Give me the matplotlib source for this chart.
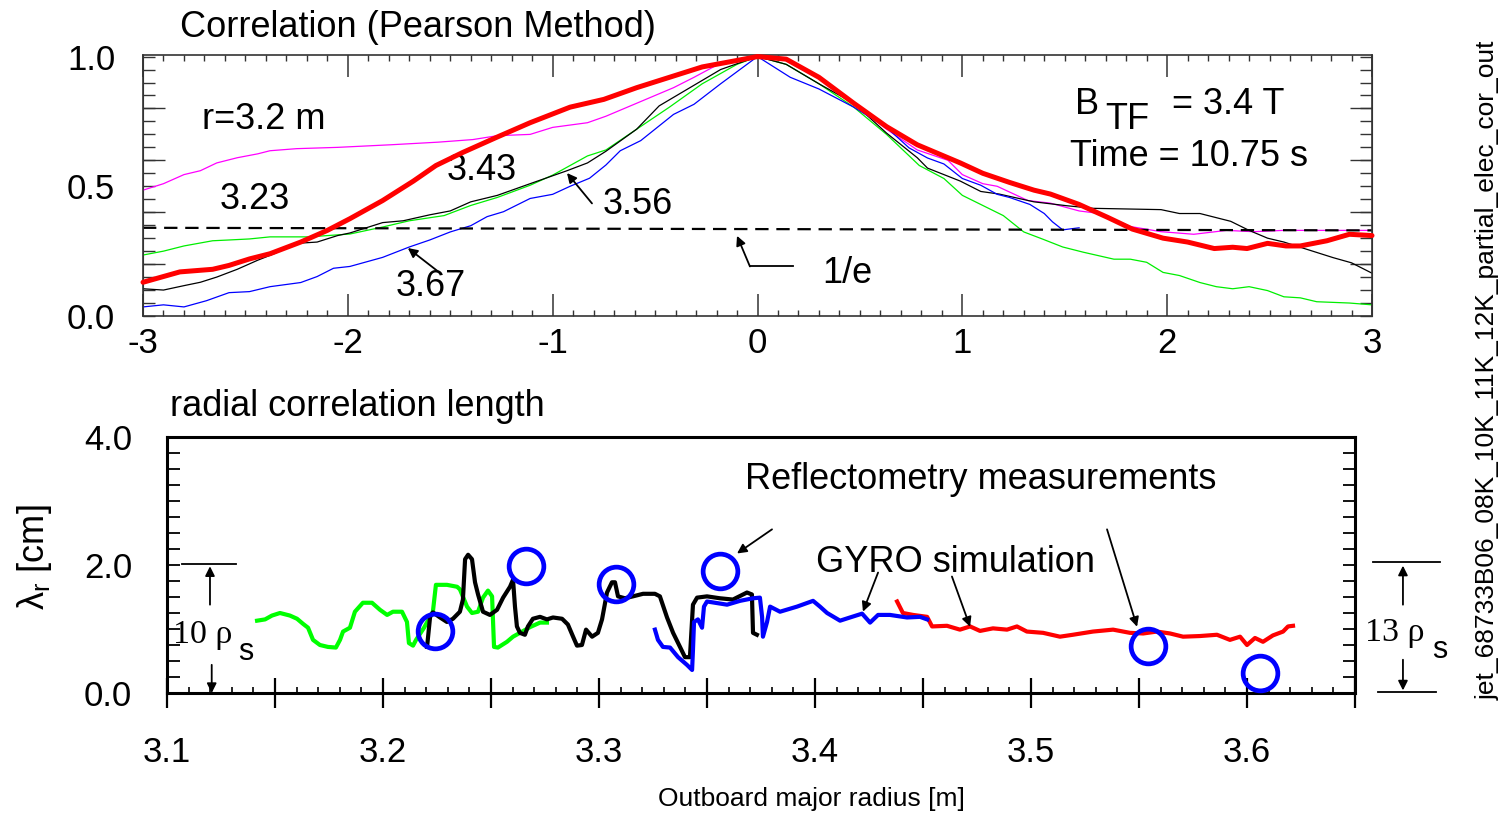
import matplotlib
matplotlib.use("Agg")
import matplotlib.pyplot as plt
from matplotlib.ticker import MultipleLocator, FixedLocator, FuncFormatter

plt.rcParams['font.family'] = ['Liberation Sans', 'DejaVu Sans']
plt.rcParams['mathtext.fontset'] = 'custom'
plt.rcParams['mathtext.rm'] = 'Liberation Sans'
plt.rcParams['mathtext.it'] = 'Liberation Sans:italic'

# ---- top panel: correlation vs separation (cm) ----
red_x = [-3.0, -2.82, -2.66, -2.58, -2.48, -2.38, -2.23, -2.10, -1.99, -1.83, -1.68, -1.57, -1.44, -1.27,
         -1.11, -0.915, -0.75, -0.59, -0.43, -0.27, -0.10, 0.0, 0.14, 0.30, 0.47, 0.63, 0.78, 0.99, 1.10,
         1.23, 1.35, 1.43, 1.57, 1.71, 1.83, 1.98, 2.10, 2.23, 2.32, 2.39, 2.49, 2.58, 2.65, 2.78, 2.89, 3.0]
red_y = [0.13, 0.17, 0.18, 0.195, 0.22, 0.24, 0.285, 0.33, 0.375, 0.445, 0.52, 0.58, 0.63, 0.69,
         0.745, 0.805, 0.835, 0.88, 0.92, 0.96, 0.985, 1.0, 0.99, 0.92, 0.82, 0.73, 0.66, 0.59, 0.55,
         0.515, 0.485, 0.47, 0.43, 0.38, 0.335, 0.30, 0.285, 0.26, 0.265, 0.26, 0.28, 0.27, 0.27, 0.29, 0.315, 0.31]

magenta_x = [-3.0, -2.90, -2.80, -2.72, -2.64, -2.54, -2.44, -2.38, -2.25, -2.05, -1.79, -1.56, -1.39, -1.27,
             -1.11, -1.0, -0.83, -0.74, -0.59, -0.41, -0.31, -0.18, 0.0, 0.14, 0.30, 0.47, 0.63, 0.78, 0.93,
             1.0, 1.10, 1.17, 1.32, 1.43, 1.57, 1.67, 1.82, 1.97, 2.13, 2.29, 2.42, 2.57, 2.81, 3.0]
magenta_y = [0.485, 0.51, 0.545, 0.56, 0.59, 0.61, 0.625, 0.637, 0.645, 0.65, 0.66, 0.67, 0.68, 0.695,
             0.70, 0.727, 0.745, 0.77, 0.82, 0.88, 0.92, 0.975, 1.0, 0.99, 0.915, 0.82, 0.72, 0.64, 0.60,
             0.545, 0.51, 0.50, 0.445, 0.435, 0.405, 0.395, 0.345, 0.325, 0.315, 0.33, 0.325, 0.33, 0.33, 0.33]

black_x = [-3.0, -2.90, -2.80, -2.72, -2.64, -2.54, -2.44, -2.36, -2.25, -2.15, -2.05, -1.99, -1.83, -1.73,
           -1.60, -1.50, -1.40, -1.27, -1.11, -0.93, -0.83, -0.74, -0.59, -0.48, -0.33, -0.18, 0.0, 0.14,
           0.30, 0.47, 0.63, 0.78, 0.83, 0.99, 1.09, 1.18, 1.35, 1.51, 1.64, 1.97, 2.06, 2.16, 2.31, 2.40,
           2.49, 2.57, 2.71, 2.81, 2.90, 3.0]
black_y = [0.105, 0.10, 0.117, 0.13, 0.15, 0.18, 0.215, 0.24, 0.28, 0.285, 0.31, 0.32, 0.36, 0.367,
           0.39, 0.405, 0.44, 0.465, 0.51, 0.56, 0.59, 0.635, 0.72, 0.81, 0.88, 0.95, 1.0, 0.97,
           0.895, 0.82, 0.705, 0.61, 0.57, 0.52, 0.48, 0.47, 0.44, 0.425, 0.415, 0.41, 0.395, 0.395, 0.365, 0.33,
           0.30, 0.285, 0.25, 0.225, 0.205, 0.165]

green_x = [-3.0, -2.90, -2.80, -2.66, -2.58, -2.48, -2.38, -2.19, -1.99, -1.83, -1.70, -1.53, -1.40, -1.27,
           -1.11, -1.0, -0.83, -0.74, -0.59, -0.43, -0.27, -0.10, 0.0, 0.14, 0.30, 0.47, 0.63, 0.79, 0.91,
           1.0, 1.10, 1.20, 1.30, 1.39, 1.49, 1.59, 1.74, 1.82, 1.90, 1.98, 2.06, 2.16, 2.24, 2.32, 2.40,
           2.49, 2.57, 2.65, 2.73, 2.89, 3.0]
green_y = [0.235, 0.25, 0.27, 0.29, 0.293, 0.297, 0.305, 0.305, 0.316, 0.343, 0.367, 0.387, 0.426, 0.457,
           0.504, 0.543, 0.617, 0.64, 0.72, 0.805, 0.895, 0.97, 1.0, 0.97, 0.895, 0.805, 0.70, 0.58, 0.53,
           0.465, 0.426, 0.387, 0.324, 0.297, 0.266, 0.246, 0.219, 0.219, 0.207, 0.168, 0.156, 0.129, 0.113, 0.105, 0.113,
           0.098, 0.074, 0.07, 0.055, 0.05, 0.043]

blue_x = [-3.0, -2.90, -2.80, -2.69, -2.58, -2.48, -2.38, -2.23, -2.15, -2.07, -1.99, -1.83, -1.70, -1.60,
          -1.50, -1.40, -1.32, -1.24, -1.11, -1.0, -0.915, -0.82, -0.74, -0.67, -0.57, -0.41, -0.31, -0.18,
          0.0, 0.16, 0.30, 0.47, 0.63, 0.74, 0.83, 0.91, 1.0, 1.09, 1.17, 1.23, 1.33, 1.40, 1.44, 1.49, 1.57]
blue_y = [0.035, 0.043, 0.035, 0.059, 0.09, 0.094, 0.113, 0.129, 0.152, 0.184, 0.191, 0.226, 0.266, 0.293,
          0.324, 0.348, 0.383, 0.402, 0.453, 0.469, 0.50, 0.531, 0.582, 0.637, 0.676, 0.777, 0.816, 0.895,
          1.0, 0.92, 0.875, 0.805, 0.727, 0.648, 0.609, 0.586, 0.53, 0.504, 0.469, 0.457, 0.43, 0.395, 0.363, 0.332, 0.34]

efold_x = [-3.0, 3.0]
efold_y = [0.34, 0.33]

# ---- bottom panel: radial correlation length (cm) vs major radius (m) ----
g_R = [3.1417, 3.1454, 3.1486, 3.1523, 3.1569, 3.1602, 3.1630, 3.1653, 3.1676, 3.1708, 3.1745, 3.1782,
       3.1801, 3.1815, 3.1847, 3.1870, 3.1907, 3.1949, 3.1986, 3.2019, 3.2046, 3.2088, 3.2111, 3.2120,
       3.2139, 3.2153, 3.2190, 3.2231, 3.2245, 3.2296, 3.2343, 3.2356, 3.2389, 3.2412, 3.2440, 3.2463,
       3.2486, 3.2505, 3.2514, 3.2532, 3.2574, 3.2602, 3.2634, 3.2681, 3.2727, 3.2759]
g_lam = [1.13, 1.15, 1.21, 1.25, 1.21, 1.16, 1.08, 1.02, 0.83, 0.75, 0.72, 0.71,
         0.83, 0.96, 1.02, 1.27, 1.41, 1.41, 1.30, 1.22, 1.27, 1.27, 1.11, 0.78,
         0.74, 0.83, 1.02, 1.27, 1.69, 1.69, 1.66, 1.62, 1.35, 1.25, 1.27, 1.49,
         1.60, 1.51, 0.72, 0.71, 0.80, 0.88, 0.94, 1.03, 1.10, 1.10]

k_R = [3.2204, 3.2218, 3.2231, 3.2264, 3.2296, 3.2324, 3.2356, 3.2370, 3.2380, 3.2394, 3.2412, 3.2426,
       3.2440, 3.2463, 3.2495, 3.2528, 3.2556, 3.2588, 3.2602, 3.2611, 3.2620, 3.2634, 3.2657, 3.2671,
       3.2694, 3.2727, 3.2759, 3.2787, 3.2829, 3.2856, 3.2880, 3.2898, 3.2921, 3.2940, 3.2968, 3.2995,
       3.3014, 3.3037, 3.3060, 3.3074, 3.3088, 3.3120, 3.3157, 3.3204, 3.3259, 3.3282, 3.3315, 3.3343,
       3.3375, 3.3398, 3.3421, 3.3435, 3.3454, 3.3500, 3.3560, 3.3620, 3.3685, 3.3708, 3.3713, 3.3731]
k_lam = [0.72, 1.19, 1.26, 1.18, 1.11, 1.16, 1.27, 1.46, 2.09, 2.16, 2.09, 1.73,
         1.54, 1.27, 1.22, 1.30, 1.49, 1.66, 1.77, 1.35, 1.04, 0.94, 0.91, 1.04,
         1.16, 1.19, 1.15, 1.18, 1.16, 1.07, 0.88, 0.74, 0.75, 0.99, 0.88, 0.94,
         1.15, 1.57, 1.73, 1.73, 1.51, 1.48, 1.51, 1.55, 1.55, 1.51, 1.18, 0.94,
         0.72, 0.56, 0.56, 1.38, 1.49, 1.51, 1.48, 1.46, 1.57, 1.54, 0.94, 0.91]

b_R = [3.3259, 3.3273, 3.3296, 3.3329, 3.3366, 3.3407, 3.3431, 3.3435, 3.3440, 3.3458, 3.3477, 3.3486,
       3.3500, 3.3537, 3.3593, 3.3653, 3.3713, 3.3745, 3.3755, 3.3759, 3.3778, 3.3792, 3.3838, 3.3917,
       3.3991, 3.4023, 3.4056, 3.4116, 3.4162, 3.4218, 3.4255, 3.4292, 3.4347, 3.4426, 3.4486, 3.4519]
b_lam = [0.99, 0.83, 0.72, 0.71, 0.56, 0.44, 0.36, 0.67, 1.11, 1.15, 1.02, 1.35,
         1.43, 1.41, 1.38, 1.44, 1.48, 1.49, 1.19, 0.88, 1.11, 1.35, 1.27, 1.35,
         1.44, 1.35, 1.25, 1.13, 1.18, 1.24, 1.10, 1.22, 1.22, 1.18, 1.19, 1.15]

r_R = [3.4380, 3.4407, 3.4454, 3.4519, 3.4542, 3.4611, 3.4671, 3.4718, 3.4764, 3.4824, 3.4889, 3.4935,
       3.4981, 3.5056, 3.5134, 3.5194, 3.5287, 3.5380, 3.5458, 3.5519, 3.5583, 3.5644, 3.5704, 3.5782,
       3.5861, 3.5921, 3.5968, 3.6000, 3.6037, 3.6074, 3.6120, 3.6167, 3.6190, 3.6213]
r_lam = [1.43, 1.25, 1.22, 1.19, 1.04, 1.05, 0.99, 1.04, 0.97, 1.01, 0.99, 1.04,
         0.96, 0.94, 0.88, 0.91, 0.96, 0.99, 0.94, 0.93, 0.96, 0.93, 0.88, 0.89,
         0.91, 0.83, 0.88, 0.75, 0.86, 0.80, 0.90, 0.96, 1.04, 1.05]

refl_R = [3.224, 3.266, 3.308, 3.356, 3.554, 3.606]
refl_lam = [0.97, 1.98, 1.71, 1.91, 0.74, 0.31]

W, H = 1501, 816
fig = plt.figure(figsize=(W / 100, H / 100), dpi=100)

# ================= top panel =================
ax1 = fig.add_axes([143 / W, 1 - 316 / H, (1372 - 143) / W, (316 - 55) / H])
ax1.plot(magenta_x, magenta_y, color='#ff00ff', lw=0.9)
ax1.plot(green_x, green_y, color='#00ee00', lw=0.9)
ax1.plot(black_x, black_y, color='black', lw=0.9)
ax1.plot(blue_x, blue_y, color='#0000ff', lw=0.9)
ax1.plot(red_x, red_y, color='#ff0000', lw=3.6, solid_capstyle='round', clip_on=False, zorder=5)
ax1.plot(efold_x, efold_y, color='black', lw=1.6, dashes=(6, 3.5))

ax1.set_xlim(-3, 3)
ax1.set_ylim(0, 1.006)
ax1.xaxis.set_major_locator(MultipleLocator(1))
ax1.xaxis.set_minor_locator(MultipleLocator(0.1))
ax1.xaxis.set_major_formatter(FuncFormatter(lambda v, p: '%d' % round(v)))
ax1.yaxis.set_major_locator(FixedLocator([0.0, 0.5, 1.0]))
ax1.yaxis.set_minor_locator(MultipleLocator(0.05))
ax1.yaxis.set_major_formatter(FuncFormatter(lambda v, p: '%.1f' % v))
ax1.tick_params(axis='x', which='major', direction='in', length=16, width=1.1, top=True,
                labelsize=25, pad=8, color='#333333')
ax1.tick_params(axis='x', which='minor', direction='in', length=4.5, width=1, top=True, color='#333333')
ax1.tick_params(axis='y', which='both', direction='in', length=8.5, width=1, right=True,
                labelsize=25, pad=20, color='#333333')
for side in ('left', 'right'):
    sec = ax1.secondary_yaxis(side)
    sec.set_yticks([0.2, 0.4, 0.6, 0.8])
    sec.tick_params(direction='in', length=16, width=1, labelleft=False, labelright=False, color='#333333')
    sec.spines[side].set_color('#333333')
for s in ax1.spines.values():
    s.set_color('#333333')
    s.set_linewidth(1.2)

fs = 26
ax1.text(-2.712, 0.719, 'r=3.2 m', fontsize=fs, va='baseline')
ax1.text(-2.625, 0.411, '3.23', fontsize=fs, va='baseline')
ax1.text(-1.516, 0.525, '3.43', fontsize=fs, va='baseline')
ax1.text(-1.765, 0.078, '3.67', fontsize=fs, va='baseline')
ax1.text(-0.754, 0.395, '3.56', fontsize=fs, va='baseline')
ax1.text(0.315, 0.129, '1/e', fontsize=fs, va='baseline')
ax1.text(1.55, 0.777, 'B', fontsize=fs, va='baseline')
ax1.text(1.697, 0.719, 'TF', fontsize=fs, va='baseline')
ax1.text(2.024, 0.777, '= 3.4 T', fontsize=fs, va='baseline')
ax1.text(1.526, 0.578, 'Time = 10.75 s', fontsize=fs, va='baseline')

arrow = dict(arrowstyle='-|>', color='black', lw=1.3, mutation_scale=14, shrinkA=0, shrinkB=0)
ax1.annotate('', xy=(-1.707, 0.262), xytext=(-1.560, 0.172), arrowprops=arrow)
ax1.annotate('', xy=(-0.930, 0.551), xytext=(-0.808, 0.434), arrowprops=arrow)
ax1.plot([0.173, -0.037], [0.191, 0.191], color='black', lw=1.3)
ax1.annotate('', xy=(-0.100, 0.309), xytext=(-0.037, 0.191), arrowprops=arrow)

fig.text(180 / W, 1 - 37 / H, 'Correlation (Pearson Method)', fontsize=fs, va='baseline')

# ================= bottom panel =================
ax2 = fig.add_axes([167 / W, 1 - 693 / H, (1355 - 167) / W, (693 - 437) / H])
ax2.plot(g_R, g_lam, color='#00ff00', lw=3)
ax2.plot(r_R, r_lam, color='#ff0000', lw=3)
ax2.plot(k_R, k_lam, color='black', lw=3)
ax2.plot(b_R, b_lam, color='#0000ff', lw=3)
ax2.plot(refl_R, refl_lam, 'o', ms=25, mfc='none', mec='#0000ff', mew=3.4, clip_on=False, zorder=6)

ax2.set_xlim(3.1, 3.65)
ax2.set_ylim(0, 4.0)
ax2.xaxis.set_major_locator(MultipleLocator(0.05))
ax2.xaxis.set_minor_locator(MultipleLocator(0.01))
ax2.xaxis.set_major_formatter(FuncFormatter(lambda v, p: '%.1f' % v if round(v / 0.05) % 2 == 0 else ''))
ax2.yaxis.set_major_locator(FixedLocator([0.0, 2.0, 4.0]))
ax2.yaxis.set_minor_locator(MultipleLocator(0.25))
ax2.yaxis.set_major_formatter(FuncFormatter(lambda v, p: '%.1f' % v))
ax2.tick_params(axis='x', which='major', direction='inout', length=22, width=1.6, labelsize=25, pad=20)
ax2.tick_params(axis='x', which='minor', direction='in', length=4, width=1.2)
ax2.tick_params(axis='y', which='both', direction='in', length=9, width=1.3, right=True,
                labelsize=25, pad=25)
for s in ax2.spines.values():
    s.set_linewidth(2.2)

ax2.text(3.3676, 3.18, 'Reflectometry measurements', fontsize=fs, va='baseline')
ax2.text(3.4005, 1.898, 'GYRO simulation', fontsize=fs, va='baseline')
ax2.annotate('', xy=(3.3639, 2.180), xytext=(3.3801, 2.557), arrowprops=arrow)
ax2.annotate('', xy=(3.5491, 1.035), xytext=(3.5352, 2.557), arrowprops=arrow)
ax2.annotate('', xy=(3.4222, 1.271), xytext=(3.4292, 1.882), arrowprops=arrow)
ax2.annotate('', xy=(3.4718, 1.035), xytext=(3.4634, 1.820), arrowprops=arrow)

# rho_s brackets
ax2.text(3.1028, 0.784, '10 ρ', fontsize=24.5, family=['Liberation Serif', 'DejaVu Serif'], va='baseline')
ax2.text(3.1329, 0.518, 's', fontsize=22, va='baseline')
ax2.plot([3.1069, 3.1319], [2.008, 2.008], color='black', lw=1.3)
ax2.annotate('', xy=(3.1199, 1.98), xytext=(3.1199, 1.38), arrowprops=arrow)
ax2.annotate('', xy=(3.1207, 0.0), xytext=(3.1207, 0.44), arrowprops=arrow, annotation_clip=False)

ax2.text(3.6546, 0.816, '13 ρ', fontsize=24.5, family=['Liberation Serif', 'DejaVu Serif'], va='baseline')
ax2.text(3.6856, 0.549, 's', fontsize=22, va='baseline')
ax2.plot([3.6583, 3.6894], [2.04, 2.04], color='black', lw=1.3, clip_on=False)
ax2.plot([3.6606, 3.6875], [0.016, 0.016], color='black', lw=1.3, clip_on=False)
ax2.annotate('', xy=(3.6722, 1.99), xytext=(3.6722, 1.38), arrowprops=arrow, annotation_clip=False)
ax2.annotate('', xy=(3.6722, 0.04), xytext=(3.6722, 0.52), arrowprops=arrow, annotation_clip=False)

fig.text(170 / W, 1 - 416 / H, 'radial correlation length', fontsize=fs, va='baseline')
fig.text(811 / W, 1 - 806 / H, 'Outboard major radius [m]', fontsize=19, ha='center', va='baseline')
fig.text(35 / W, 1 - 557 / H, r'$\mathregular{\lambda_r}$ [cm]', fontsize=fs, rotation=90,
         ha='center', va='center')
fig.text(1488 / W, 1 - 370 / H, 'jet_68733B06_08K_10K_11K_12K_partial_elec_cor_out', fontsize=19,
         rotation=90, ha='center', va='center')

fig.savefig('out.png', dpi=100)
